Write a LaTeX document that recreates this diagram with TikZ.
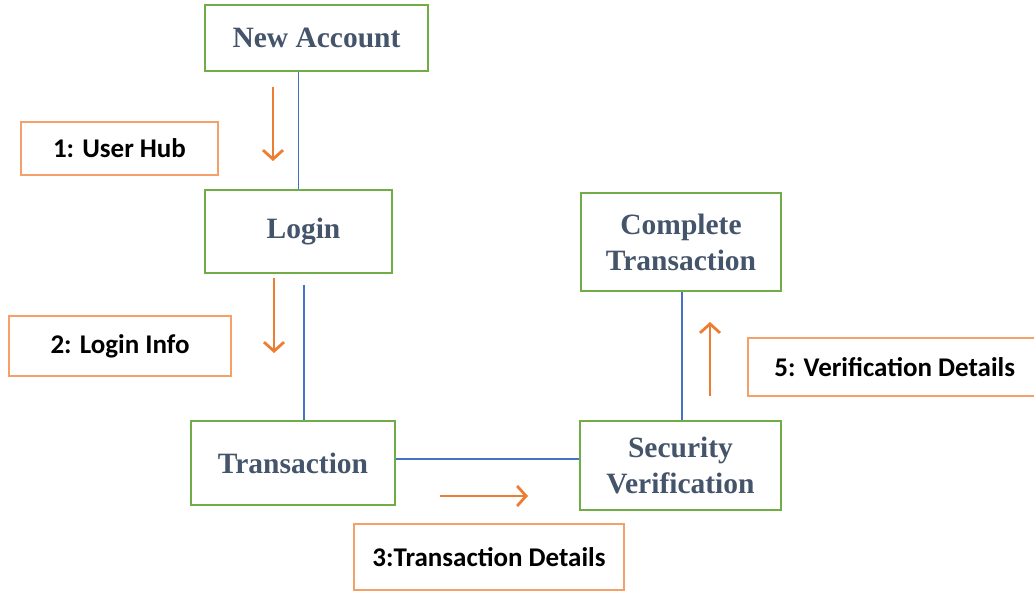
\documentclass[tikz,border=0pt]{standalone}
\usepackage{fontspec}
\setmainfont{Liberation Serif}
\newfontfamily\lblfont{Carlito}
\usetikzlibrary{arrows.meta}
\definecolor{boxgreen}{HTML}{70AD47}
\definecolor{msgorange}{HTML}{ED7D31}
\definecolor{lblorange}{HTML}{F4A06A}
\definecolor{linkblue}{HTML}{4472C4}
\definecolor{slate}{HTML}{44546A}
\tikzset{
  objbox/.style={draw=boxgreen, line width=1.8pt, text=slate, align=center,
    font=\fontsize{29.5}{36}\selectfont\bfseries, inner sep=0pt},
  msgbox/.style={draw=lblorange, line width=1.5pt, text=black,
    font=\fontsize{27}{32}\selectfont\lblfont\bfseries, inner sep=0pt},
  link/.style={draw=linkblue, line width=1.3pt},
  msgarrow/.style={draw=msgorange, line width=2.8pt,
    -{Straight Barb[length=9pt,width=20pt,line width=2.8pt]}},
}
\begin{document}
\begin{tikzpicture}[x=1pt,y=-1pt]
\useasboundingbox (0,0) rectangle (1034,591);
% objects
\node[objbox, minimum width=223pt, minimum height=66pt] (newacc) at (316.5,38) {New Account};
\node[objbox, minimum width=187pt, minimum height=83pt] (login) at (298.5,231.5) {\hspace*{10pt}Login};
\node[objbox, minimum width=204pt, minimum height=84pt] (trans) at (293,463) {Transaction};
\node[objbox, minimum width=201pt, minimum height=89pt] (secver) at (680.5,465.5) {Security\\Verification};
\node[objbox, minimum width=200pt, minimum height=98pt] (complete) at (681,242) {Complete\\Transaction};
% message labels
\node[msgbox, minimum width=197pt, minimum height=53pt] (m1) at (119.5,148.5) {1: User Hub};
\node[msgbox, minimum width=222pt, minimum height=60pt] (m2) at (120,346) {2: Login Info};
\node[msgbox, minimum width=270pt, minimum height=66pt] (m3) at (489,557) {3:Transaction Details};
\node[msgbox, minimum width=300pt, minimum height=58pt, anchor=west] (m5) at (747,367) {\hspace*{-6pt}5: Verification Details};
% links
\draw[link] (login.north) coordinate (l1a) -- (l1a |- newacc.south);
\draw[link] ([xshift=5.5pt,yshift=-11pt]login.south) -- ([xshift=5.5pt]login.south |- trans.north);
\draw[link] ([yshift=4pt]trans.east) -- ([yshift=4pt]trans.east -| secver.west);
\draw[link] ([xshift=1.5pt]secver.north) -- ([xshift=1.5pt]secver.north |- complete.south);
% message arrows
\coordinate (a1s) at (273,87);  \coordinate (a1e) at (273,161);
\coordinate (a2s) at (274,278); \coordinate (a2e) at (274,353);
\coordinate (a3s) at (440,496); \coordinate (a3e) at (528,496);
\coordinate (a5s) at (710,396); \coordinate (a5e) at (710,322);
\draw[msgarrow] (a1s) -- (a1e);
\draw[msgarrow] (a2s) -- (a2e);
\draw[msgarrow] (a3s) -- (a3e);
\draw[msgarrow] (a5s) -- (a5e);
\end{tikzpicture}
\end{document}
